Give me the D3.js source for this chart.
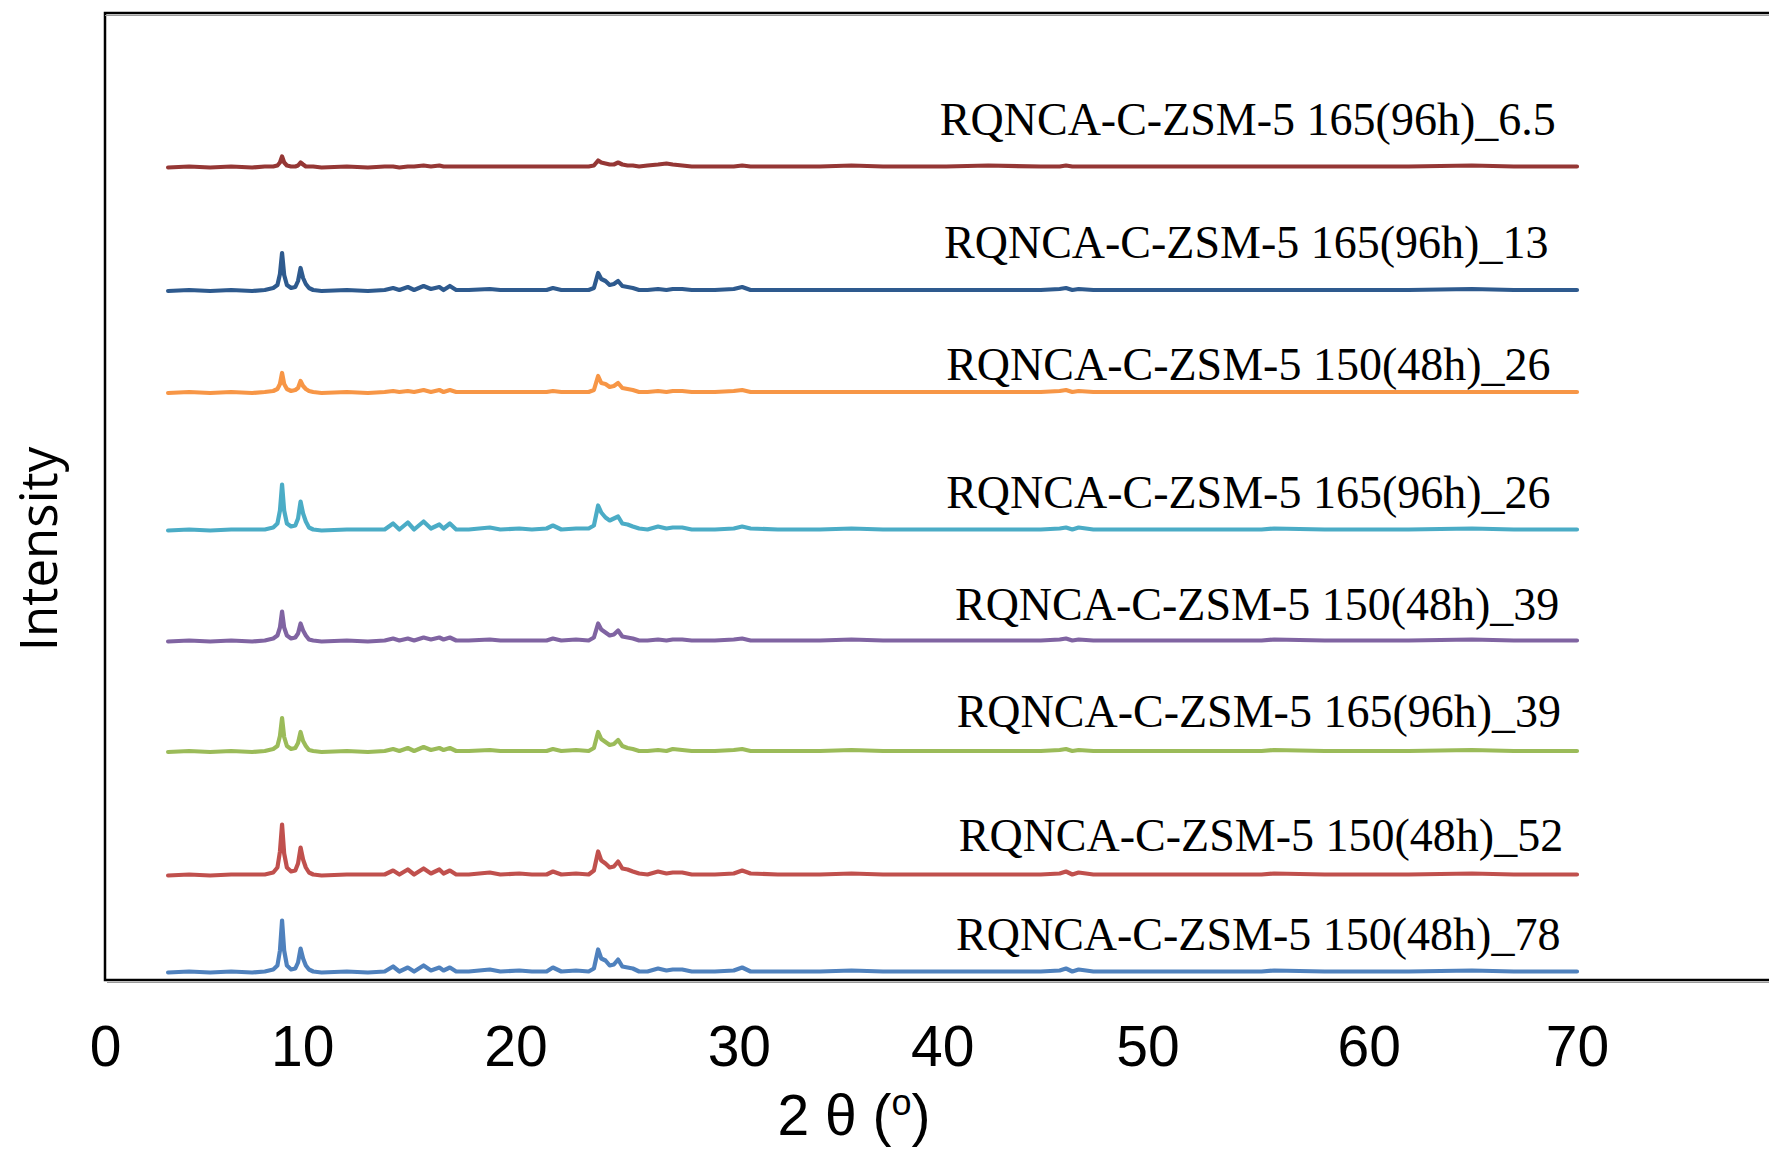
<!DOCTYPE html>
<html>
<head>
<meta charset="utf-8">
<script src="https://cdn.jsdelivr.net/npm/d3@7"></script>
<style>
  html, body { margin: 0; padding: 0; background: #ffffff; }
  svg { display: block; }
</style>
</head>
<body>
<svg id="chart" width="1769" height="1151"></svg>
<script>
// ---------------- DATA ----------------
const seriesNames = [
  "RQNCA-C-ZSM-5 165(96h)_6.5",
  "RQNCA-C-ZSM-5 165(96h)_13",
  "RQNCA-C-ZSM-5 150(48h)_26",
  "RQNCA-C-ZSM-5 165(96h)_26",
  "RQNCA-C-ZSM-5 150(48h)_39",
  "RQNCA-C-ZSM-5 165(96h)_39",
  "RQNCA-C-ZSM-5 150(48h)_52",
  "RQNCA-C-ZSM-5 150(48h)_78"
];

const xTicks = [0, 10, 20, 30, 40, 50, 60, 70];

// shared 2θ sampling (degrees)
const twoTheta = [
  3.0, 4.0, 5.0, 6.0, 7.0, 7.6, 8.0, 8.2, 8.32, 8.42,
  8.52, 8.65, 8.85, 9.05, 9.18, 9.3, 9.42, 9.55, 9.7, 9.9,
  10.3, 11.5, 12.5, 13.3, 13.7, 14.0, 14.4, 14.7, 15.15, 15.5,
  15.9, 16.1, 16.4, 16.7, 17.3, 18.3, 18.8, 19.7, 20.3, 21.0,
  21.3, 21.7, 22.4, 23.0, 23.25, 23.45, 23.6, 23.8, 24.0, 24.2,
  24.4, 24.6, 24.85, 25.1, 25.4, 25.8, 26.3, 26.7, 27.0, 27.45,
  27.9, 29.0, 29.9, 30.3, 30.7, 32.0, 34.0, 35.5, 37.0, 40.0,
  42.0, 44.5, 45.4, 45.7, 46.0, 46.3, 47.0, 50.0, 55.0, 55.6,
  58.0, 62.0, 65.0, 67.0, 70.0
];

// vertical stacking offsets (a.u.)
const offsets = [812.5, 689, 587, 449.5, 338.5, 228, 104.5, 7.5];

// intensities above each pattern's own baseline (a.u.)
const int_165_96h_6_5 = [
  0,1,0,1,0,1,1,2,5,11,
  5,2,1,1,2,5,3,1,1,1,
  0,1,0,1,1,0,1,1,2,1,
  2,1,1,1,1,1,1,1,1,1,
  1,1,1,1,2,7,5,4,3,3,
  5,3,2,2,1,2,3,4,3,2,
  1,1,1,2,1,1,1,2,1,1,
  2,1,1,2,1,1,1,1,1,1,
  1,1,2,1,1
];
const int_165_96h_13 = [
  0,1,0,1,0,1,3,6,17,38,
  16,6,3,4,10,23,13,7,3,1,
  0,1,0,1,3,1,4,1,5,2,
  4,1,5,1,1,2,1,1,1,1,
  3,1,1,1,3,18,12,10,6,7,
  10,5,4,3,1,1,2,1,2,2,
  1,1,2,4,1,1,1,1,1,1,
  1,1,2,3,1,2,1,1,1,1,
  1,1,2,1,1
];
const int_150_48h_26 = [
  0,1,0,1,0,1,2,4,9,20,
  9,4,2,3,5,12,7,4,2,1,
  0,1,0,1,2,1,2,1,3,1,
  3,1,3,1,1,1,1,1,1,1,
  2,1,1,1,3,17,10,9,6,7,
  10,5,4,3,1,1,2,1,2,2,
  1,1,2,3,1,1,1,1,1,1,
  1,1,2,3,1,2,1,1,1,1,
  1,1,1,1,1
];
const int_165_96h_26 = [
  0,1,0,1,1,1,3,7,20,46,
  20,7,4,5,12,29,17,9,3,1,
  0,1,1,1,7,1,8,1,9,2,
  6,2,7,1,1,3,1,2,1,2,
  5,1,2,2,5,25,18,13,10,12,
  14,7,6,4,2,1,4,2,3,3,
  1,1,2,4,2,1,1,2,1,1,
  1,1,2,3,1,3,1,1,1,2,
  1,1,2,1,1
];
const int_150_48h_39 = [
  0,1,0,1,0,1,3,6,14,30,
  14,6,3,4,8,18,11,6,2,1,
  0,1,0,1,3,1,3,1,4,2,
  4,2,4,1,1,2,1,1,1,1,
  3,1,2,1,4,18,12,9,6,7,
  11,5,4,3,1,1,2,1,2,2,
  1,1,2,3,1,1,1,2,1,1,
  1,1,2,3,1,2,1,1,1,2,
  1,1,2,1,1
];
const int_165_96h_39 = [
  0,1,0,1,0,1,3,6,16,34,
  15,6,3,4,9,20,11,6,2,1,
  0,1,0,1,3,1,4,1,5,2,
  4,2,4,1,1,2,1,1,1,1,
  3,1,2,1,4,20,13,10,7,8,
  12,6,4,3,1,1,2,1,3,2,
  1,1,2,3,1,1,1,2,1,1,
  1,1,2,3,1,2,1,1,1,2,
  1,1,2,1,1
];
const int_150_48h_52 = [
  0,1,0,1,1,1,3,8,24,51,
  22,8,4,5,12,28,16,8,3,1,
  0,1,1,1,5,1,6,1,7,2,
  6,2,5,1,1,3,1,2,1,1,
  4,1,2,1,5,24,15,12,8,9,
  14,7,6,4,2,1,4,2,3,3,
  1,1,2,5,2,1,1,2,1,1,
  1,1,2,4,1,3,1,1,1,2,
  1,1,2,1,1
];
const int_150_48h_78 = [
  0,1,0,1,0,1,3,7,22,52,
  22,7,3,4,10,24,14,7,3,1,
  0,1,0,1,6,1,5,1,7,2,
  5,2,5,1,1,3,1,2,1,1,
  5,1,2,1,4,23,14,12,7,8,
  13,6,5,4,1,1,4,2,3,3,
  1,1,2,5,1,1,1,2,1,1,
  1,1,2,4,1,3,1,1,1,2,
  1,1,2,1,1
];

const intensities = [
  int_165_96h_6_5, int_165_96h_13, int_150_48h_26, int_165_96h_26,
  int_150_48h_39, int_165_96h_39, int_150_48h_52, int_150_48h_78
];

// ---------------- LAYOUT / STYLE ----------------
const colors = ["#953735", "#2E5A8E", "#F79646", "#4BACC6", "#8064A2", "#9BBB59", "#C0504D", "#4F81BD"];
// label anchors: 2θ of label start, and rise above baseline (a.u.)
const labelTheta = [39.7, 39.9, 40.0, 40.0, 40.42, 40.5, 40.6, 40.47];
const labelRise  = [32.5, 33, 13, 22.5, 21.5, 25, 24.5, 22.5];
// small horizontal nudges of tick labels (px), as placed in the original figure
const tickNudge = [0, -13, -10, 3, -4, -9, 2, 0];

const frameLeft = 105, frameTop = 13, frameBottom = 980;

const svg = d3.select("#chart");

const x = d3.scaleLinear().domain([0, 70]).range([105, 1577]);
const y = d3.scaleLinear().domain([0, frameBottom - frameTop]).range([frameBottom, frameTop]);

// frame (right side extends past the picture)
svg.append("rect")
  .attr("x", frameLeft).attr("y", frameTop)
  .attr("width", 1900).attr("height", frameBottom - frameTop)
  .attr("fill", "none").attr("stroke", "#000").attr("stroke-width", 2.5);
svg.append("line")
  .attr("x1", frameLeft + 2).attr("x2", 1769)
  .attr("y1", frameBottom + 2.5).attr("y2", frameBottom + 2.5)
  .attr("stroke", "#9a9a9a").attr("stroke-width", 1.2);
svg.append("line")
  .attr("x1", frameLeft).attr("x2", 1769)
  .attr("y1", frameTop + 2.5).attr("y2", frameTop + 2.5)
  .attr("stroke", "#9a9a9a").attr("stroke-width", 1.2);

// x axis labels
const xAxis = d3.axisBottom(x).tickValues(xTicks).tickSize(0).tickPadding(0).tickFormat(d3.format("d"));
const gx = svg.append("g").attr("transform", `translate(0,${frameBottom})`).call(xAxis);
gx.select(".domain").remove();
gx.selectAll("text")
  .attr("dy", null)
  .attr("y", 86)
  .attr("dx", (d, i) => tickNudge[i])
  .attr("fill", "#000")
  .style("font-family", "'Liberation Sans', Arial, sans-serif")
  .style("font-size", "57px");

// x title
const xt = svg.append("text")
  .attr("x", 854).attr("y", 1135)
  .attr("text-anchor", "middle")
  .style("font-family", "'Liberation Sans', Arial, sans-serif")
  .style("font-size", "57px")
  .attr("fill", "#000");
xt.append("tspan").text("2 θ (");
xt.append("tspan").text("o").style("font-size", "36px").attr("dy", -20);
xt.append("tspan").text(")").attr("dy", 20);

// y title
svg.append("text")
  .attr("transform", "translate(57,549) rotate(-90)")
  .attr("text-anchor", "middle")
  .style("font-family", "'Open Sans', 'Noto Sans', sans-serif")
  .style("font-size", "51px")
  .attr("fill", "#000")
  .text("Intensity");

// patterns
const line = d3.line()
  .x(d => x(d[0]))
  .y(d => y(d[1]))
  .curve(d3.curveLinear);

intensities.forEach((arr, i) => {
  const pts = twoTheta.map((t, k) => [t, offsets[i] + arr[k]]);
  svg.append("path")
    .datum(pts)
    .attr("d", line)
    .attr("fill", "none")
    .attr("stroke", colors[i])
    .attr("stroke-width", 4.2)
    .attr("stroke-linejoin", "round")
    .attr("stroke-linecap", "round");
});

// series labels
svg.append("g").selectAll("text")
  .data(seriesNames)
  .join("text")
  .attr("x", (d, i) => x(labelTheta[i]))
  .attr("y", (d, i) => y(offsets[i] + labelRise[i]))
  .style("font-family", "'Liberation Serif', 'Times New Roman', serif")
  .style("font-size", "46px")
  .attr("fill", "#000")
  .text(d => d);
</script>
</body>
</html>
